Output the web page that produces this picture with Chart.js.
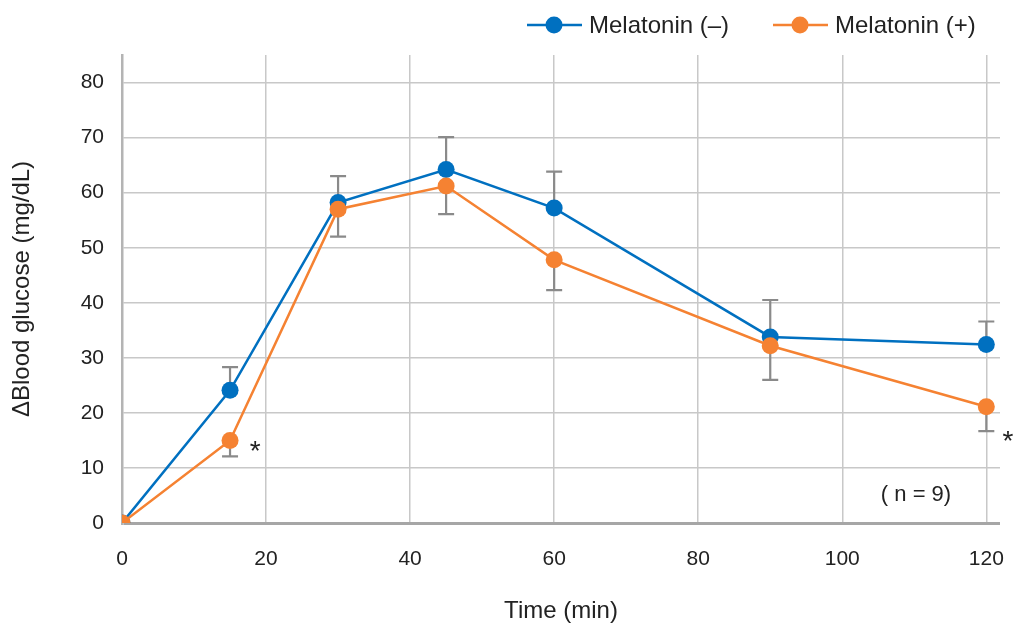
<!DOCTYPE html>
<html>
<head>
<meta charset="utf-8">
<script src="https://cdn.jsdelivr.net/npm/chart.js@4/dist/chart.umd.min.js"></script>
<style>
  html, body { margin: 0; padding: 0; background: #fff; }
  #wrap { width: 1016px; height: 628px; }
</style>
</head>
<body>
<div id="wrap"><canvas id="glucoseChart" width="1016" height="628"></canvas></div>
<script>
const times = [0, 15, 30, 45, 60, 90, 120];
const melatoninMinus = [0, 24.1, 58.2, 64.2, 57.2, 33.8, 32.4];
const melatoninPlus = [0, 15.0, 57.0, 61.2, 47.8, 32.2, 21.1];
// error bars: blue drawn upward, orange downward
const errMinus = [0, 4.2, 4.8, 5.9, 6.6, 6.7, 4.2];
const errPlus = [0, 2.9, 5.0, 5.1, 5.5, 6.2, 4.4];
const xTicks = [0, 20, 40, 60, 80, 100, 120];
const yTicks = [0, 10, 20, 30, 40, 50, 60, 70, 80];
const seriesNames = ['Melatonin (\u2013)', 'Melatonin (+)'];
// significance marks, placed in data units
const starX = [18.5, 123];
const starY = [13.8, 15.6];

const BLUE = 'rgb(0,112,192)';
const ORANGE = 'rgb(245,130,50)';
const FONT = "'Liberation Sans', Arial, sans-serif";

function toPoints(vals) {
    return times.map((t, i) => ({ x: t, y: vals[i] }));
}

const extras = {
    id: 'extras',
    beforeDatasetsDraw(chart) {
        const ctx = chart.ctx;
        const xs = chart.scales.x, ys = chart.scales.y;
        ctx.save();
        ctx.strokeStyle = '#8a8a8a';
        ctx.lineWidth = 2.2;
        const bars = [[melatoninMinus, errMinus, 1], [melatoninPlus, errPlus, -1]];
        bars.forEach(([vals, errs, dir]) => {
            times.forEach((t, i) => {
                if (!errs[i]) return;
                const px = xs.getPixelForValue(t);
                const y0 = ys.getPixelForValue(vals[i]);
                const y1 = ys.getPixelForValue(vals[i] + dir * errs[i]);
                ctx.beginPath();
                ctx.moveTo(px, y0); ctx.lineTo(px, y1);
                ctx.moveTo(px - 8, y1); ctx.lineTo(px + 8, y1);
                ctx.stroke();
            });
        });
        ctx.restore();
    },
    afterDraw(chart) {
        const ctx = chart.ctx;
        const xs = chart.scales.x, ys = chart.scales.y;
        const area = chart.chartArea;
        ctx.save();
        ctx.fillStyle = '#222';
        ctx.font = '28px ' + FONT;
        ctx.textAlign = 'center';
        ctx.textBaseline = 'middle';
        starX.forEach((sx, i) => {
            // the glyph sits high in its box, so nudge it down
            ctx.fillText('*', xs.getPixelForValue(sx), ys.getPixelForValue(starY[i]) + 5);
        });
        // sample size
        ctx.font = '22px ' + FONT;
        ctx.fillText('( n = 9)', area.right - 84, area.bottom - 28);

        // legend
        const items = [[BLUE, seriesNames[0], 527], [ORANGE, seriesNames[1], 773]];
        ctx.textAlign = 'left';
        ctx.font = '24px ' + FONT;
        items.forEach(([col, name, x0]) => {
            const y = 25;
            ctx.strokeStyle = col;
            ctx.lineWidth = 2.5;
            ctx.beginPath();
            ctx.moveTo(x0, y); ctx.lineTo(x0 + 55, y);
            ctx.stroke();
            ctx.fillStyle = col;
            ctx.beginPath();
            ctx.arc(x0 + 27, y, 8.5, 0, Math.PI * 2);
            ctx.fill();
            ctx.fillStyle = '#222';
            ctx.fillText(name, x0 + 62, y + 1);
        });
        ctx.restore();
    }
};

const ctx = document.getElementById('glucoseChart').getContext('2d');
new Chart(ctx, {
    type: 'line',
    data: {
        datasets: [{
            label: seriesNames[0],
            data: toPoints(melatoninMinus),
            borderColor: BLUE,
            backgroundColor: BLUE,
            borderWidth: 2.5,
            pointRadius: 8.5,
            pointBorderWidth: 0,
            pointBackgroundColor: BLUE,
            order: 1
        }, {
            label: seriesNames[1],
            data: toPoints(melatoninPlus),
            borderColor: ORANGE,
            backgroundColor: ORANGE,
            borderWidth: 2.5,
            pointRadius: 8.5,
            pointBorderWidth: 0,
            pointBackgroundColor: ORANGE,
            order: 0
        }]
    },
    options: {
        responsive: false,
        animation: false,
        layout: { padding: { top: 55, right: 16, left: 0, bottom: 0 } },
        plugins: { legend: { display: false }, tooltip: { enabled: false } },
        scales: {
            x: {
                type: 'linear',
                min: 0,
                max: 121.9,
                afterBuildTicks: axis => { axis.ticks = xTicks.map(v => ({ value: v })); },
                afterFit: axis => {
                    axis.height = 105;
                    axis.paddingLeft = 0;
                    axis.paddingRight = 0;
                },
                grid: {
                    color: '#c8c8c8',
                    lineWidth: 1.5,
                    drawTicks: false
                },
                border: { display: false },
                ticks: {
                    color: '#222',
                    font: { family: FONT, size: 21 },
                    padding: 24,
                    maxRotation: 0
                },
                title: {
                    display: true,
                    text: 'Time (min)',
                    color: '#222',
                    font: { family: FONT, size: 24 },
                    padding: { top: 0, bottom: 2 }
                }
            },
            y: {
                min: 0,
                max: 85,
                afterBuildTicks: axis => { axis.ticks = yTicks.map(v => ({ value: v })); },
                afterFit: axis => { axis.width = 122; },
                grid: {
                    color: c => c.tick && c.tick.value === 0 ? '#a6a6a6' : '#c8c8c8',
                    lineWidth: c => c.tick && c.tick.value === 0 ? 3 : 1.5,
                    drawTicks: false
                },
                border: { display: true, color: '#b4b4b4', width: 2.5 },
                ticks: {
                    color: '#222',
                    font: { family: FONT, size: 21 },
                    padding: 18
                },
                title: {
                    display: true,
                    text: '\u0394Blood glucose (mg/dL)',
                    color: '#222',
                    font: { family: FONT, size: 24 },
                    padding: { top: 8, bottom: 0 }
                }
            }
        }
    },
    plugins: [extras]
});
</script>
</body>
</html>
